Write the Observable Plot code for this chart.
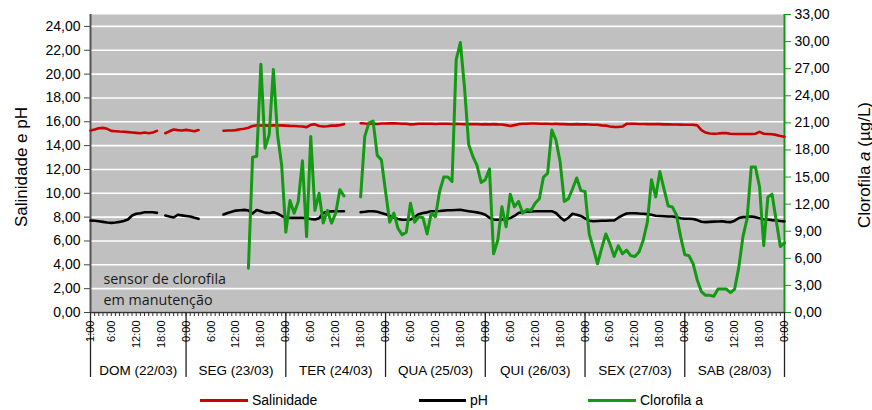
<!DOCTYPE html>
<html><head><meta charset="utf-8">
<script src="https://cdn.jsdelivr.net/npm/d3@7"></script>
<script src="https://cdn.jsdelivr.net/npm/@observablehq/plot@0.6"></script>
<style>
body{margin:0;background:#fff;font-family:"Liberation Sans",Arial,sans-serif;}
#wrap{position:relative;width:872px;height:410px;overflow:hidden;}
#legend{position:absolute;left:0;top:385px;width:872px;height:25px;font-size:14px;color:#000;}
.item{position:absolute;top:0;height:30px;display:flex;align-items:center;white-space:nowrap;}
.sw{display:inline-block;height:3px;margin-right:4px;}
</style></head><body>
<div id="wrap"><div id="chart"></div><div id="legend"></div></div>
<script>
// hours since 22/03 00:00 (1:00 on 22/03 .. 0:00 on 29/03)
const hours = d3.range(1, 169);
const dayNames = ["DOM (22/03)","SEG (23/03)","TER (24/03)","QUA (25/03)","QUI (26/03)","SEX (27/03)","SAB (28/03)"];
const dayBounds = [1,24,48,72,96,120,144,168];
const hourLabels = [1,6,12,18,24,30,36,42,48,54,60,66,72,78,84,90,96,102,108,114,120,126,132,138,144,150,156,162,168];
const leftTicks = [0,2,4,6,8,10,12,14,16,18,20,22,24];
const rightTicks = [0,3,6,9,12,15,18,21,24,27,30,33];
const N = null;

const salinidade = [
15.27,15.35,15.46,15.49,15.41,15.24,15.21,15.18,15.16,15.13,15.10,15.07,15.04,15.10,15.04,15.10,15.24,
N,
15.04,15.20,15.35,15.30,15.27,15.32,15.27,15.20,15.30,
N,N,N,N,N,
15.25,15.27,15.27,15.30,15.38,15.42,15.50,15.65,15.70,15.69,15.70,15.68,15.70,15.69,15.70,15.68,15.66,15.65,15.62,15.60,15.55,15.75,15.78,15.65,15.60,15.62,15.68,15.68,15.72,15.80,
N,N,N,
15.88,15.85,15.83,15.83,15.82,15.85,15.86,15.87,15.88,15.86,15.84,15.83,15.78,15.80,15.83,
15.83,15.84,15.83,15.82,15.83,15.83,15.83,15.82,15.83,
15.82,15.80,15.80,15.80,15.80,15.78,15.80,15.78,15.80,15.78,15.77,
15.72,15.65,15.72,15.80,
15.83,15.84,15.85,15.85,15.84,15.83,15.83,15.82,15.83,15.80,15.80,15.78,15.78,15.80,15.78,15.78,
15.77,15.75,15.75,15.70,15.68,15.60,15.57,15.56,15.60,15.83,
15.83,15.83,15.82,15.82,15.80,15.80,15.80,15.80,15.78,15.78,15.77,15.77,15.76,15.75,15.75,15.75,
15.70,15.30,15.10,15.02,15.00,15.02,15.05,15.05,15.00,14.98,14.98,14.98,14.98,14.97,15.00,15.15,15.00,14.98,14.95,14.90,14.80,14.75
];

const pH = [
7.72,7.70,7.65,7.60,7.55,7.52,7.55,7.60,7.68,7.80,8.14,8.28,8.33,8.41,8.41,8.41,8.36,
N,
8.14,8.05,7.97,8.20,8.15,8.10,8.05,7.95,7.86,
N,N,N,N,N,
8.22,8.35,8.45,8.55,8.58,8.61,8.55,8.30,8.60,8.50,8.38,8.35,8.40,8.30,8.10,7.95,7.94,7.94,7.94,7.94,7.90,7.85,7.80,7.90,8.35,8.45,8.48,8.50,8.50,8.50,
N,N,N,
8.41,8.45,8.50,8.50,8.45,8.35,8.25,8.10,7.95,7.85,7.78,7.78,7.80,8.00,8.25,
8.35,8.40,8.50,8.50,8.52,8.55,8.58,8.58,8.60,8.62,8.55,8.50,8.45,8.40,8.33,8.20,7.95,7.80,7.78,7.80,
7.85,7.92,8.10,8.35,8.42,8.45,8.48,8.50,8.50,8.50,8.50,8.50,8.35,8.00,7.72,7.95,8.28,8.20,8.10,7.90,
7.70,7.66,7.68,7.70,7.70,7.72,7.72,7.95,8.15,8.30,8.33,8.33,8.30,8.28,8.25,8.20,8.12,8.10,8.08,8.06,
8.05,8.00,7.90,7.86,7.86,7.85,7.75,7.62,7.58,7.60,7.62,7.63,7.65,7.60,7.58,7.70,7.92,8.00,8.02,8.05,8.00,7.90,7.82,7.80,7.75,7.72,7.68,7.64
];

const clorofila = [
N,N,N,N,N,N,N,N,N,N,N,N,N,N,N,N,N,N,N,N,N,N,N,N,N,N,N,N,N,N,N,N,N,N,N,N,N,N,
4.9,17.2,17.3,27.5,18.2,19.7,26.9,19.7,16.3,8.9,12.4,11.0,12.3,16.8,8.4,19.5,11.3,13.2,9.9,11.3,9.9,11.0,13.6,12.9,
N,N,N,
12.8,19.5,21.0,21.2,17.4,16.9,13.4,10.0,11.0,9.3,8.6,8.9,12.1,10.0,10.6,
10.5,8.7,11.0,10.6,13.4,15.0,15.0,14.5,28.0,29.9,24.9,18.6,17.3,16.3,14.4,14.7,15.9,6.5,8.0,11.7,
9.5,13.1,11.7,12.3,11.0,11.4,11.3,12.1,12.6,15.0,15.4,20.2,19.1,16.7,12.3,12.6,13.7,14.9,13.5,13.4,
8.7,7.1,5.4,7.1,8.7,7.6,6.2,7.4,6.5,6.9,6.3,6.2,6.7,8.0,10.0,14.7,12.8,15.6,13.7,11.8,
11.7,10.8,8.4,6.4,6.3,5.4,3.6,2.3,1.9,1.9,1.8,2.6,2.6,2.6,2.2,2.6,5.0,8.4,10.4,16.1,16.1,13.9,7.4,12.8,13.1,10.2,7.3,7.7
];

const leftMax = 25, rightMax = 33;
const k = leftMax / rightMax;
const rows = hours.map((h, i) => ({h, sal: salinidade[i], ph: pH[i], chl: clorofila[i]}));
const dayMid = dayBounds.slice(0, -1).map((b, i) => (b + dayBounds[i + 1]) / 2);
const fmt = d => (Math.round(d * 100) / 100).toFixed(2).replace(".", ",");
const RED = "#cc0000", GREEN = "#129a12", BLACK = "#000";

const W = 872, H = 385;
const chart = Plot.plot({
  width: W, height: H,
  marginLeft: 90, marginRight: 88, marginTop: 14, marginBottom: H - 312,
  x: {domain: [hours[0], hours[hours.length - 1]]},
  y: {domain: [0, leftMax]},
  style: {fontFamily: "'Liberation Sans', Arial, sans-serif", fontSize: "14px", background: "white", color: "black", overflow: "visible"},
  marks: [
    Plot.frame({fill: "#c0c0c0", stroke: "none"}),
    Plot.gridY(leftTicks, {stroke: "white", strokeOpacity: 1, strokeWidth: 1.6}),
    Plot.axisY(leftTicks, {anchor: "left", tickFormat: fmt, tickSize: 6, tickPadding: 4, label: null, fontSize: 14, stroke: "#444"}),
    Plot.axisY(rightTicks.map(v => v * k), {anchor: "right", tickFormat: d => fmt(d / k), tickSize: 6, tickPadding: 4, label: null, fontSize: 14, stroke: GREEN, fill: "black"}),
    Plot.axisX(hours, {tickSize: 4, tickFormat: () => "", label: null, stroke: "#333"}),
    Plot.axisX(dayBounds, {tickSize: 65, tickFormat: () => "", label: null, stroke: "#222", strokeWidth: 1.3}),
    Plot.axisX(hourLabels, {tickSize: 0, tickPadding: 8, tickRotate: -90, tickFormat: h => `${h % 24}:00`, label: null, fontSize: 11}),
    Plot.axisX(dayMid, {tickSize: 0, tickPadding: 53, tickFormat: d => dayNames[dayMid.indexOf(d)], label: null, fontSize: 13.5}),
    Plot.ruleY([0], {stroke: "#333", strokeWidth: 1.6}),
    Plot.ruleX([hours[0]], {stroke: "#555", strokeWidth: 2}),
    Plot.ruleX([hours[hours.length - 1]], {stroke: GREEN, strokeWidth: 2}),
    Plot.line(rows, {x: "h", y: "sal", stroke: RED, strokeWidth: 2.6}),
    Plot.line(rows, {x: "h", y: "ph", stroke: BLACK, strokeWidth: 2.6}),
    Plot.line(rows, {x: "h", y: d => d.chl == null ? NaN : d.chl * k, stroke: GREEN, strokeWidth: 3}),
    Plot.text(["sensor de clorofila\nem manutenção"], {frameAnchor: "bottom-left", dx: 13, dy: -8, textAnchor: "start", lineAnchor: "bottom", lineHeight: 1.42, fontSize: 14.3, fontFamily: "'Open Sans', sans-serif", fill: "#1a1a1a"})
  ]
});
document.getElementById("chart").appendChild(chart);

// axis titles
const svg = d3.select(chart);
svg.append("text").attr("transform", "translate(21,167) rotate(-90)")
  .attr("text-anchor", "middle").attr("dominant-baseline", "central")
  .style("font-size", "17px").style("font-family", "'Liberation Sans', Arial, sans-serif")
  .text("Salinidade e pH");
const rt = svg.append("text").attr("transform", "translate(864,165) rotate(-90)")
  .attr("text-anchor", "middle").attr("dominant-baseline", "central")
  .style("font-size", "17px").style("font-family", "'Liberation Sans', Arial, sans-serif");
rt.append("tspan").text("Clorofila ");
rt.append("tspan").style("font-style", "italic").text("a");
rt.append("tspan").text(" (µg/L)");

// legend
const legendItems = [
  {label: "Salinidade", color: RED, left: 200, w: 48},
  {label: "pH", color: BLACK, left: 419, w: 47},
  {label: "Clorofila a", color: GREEN, left: 588, w: 48}
];
const lg = d3.select("#legend");
legendItems.forEach(it => {
  const d = lg.append("div").attr("class", "item").style("left", it.left + "px");
  d.append("span").attr("class", "sw").style("width", it.w + "px").style("background", it.color);
  d.append("span").text(it.label);
});
</script>
</body></html>
